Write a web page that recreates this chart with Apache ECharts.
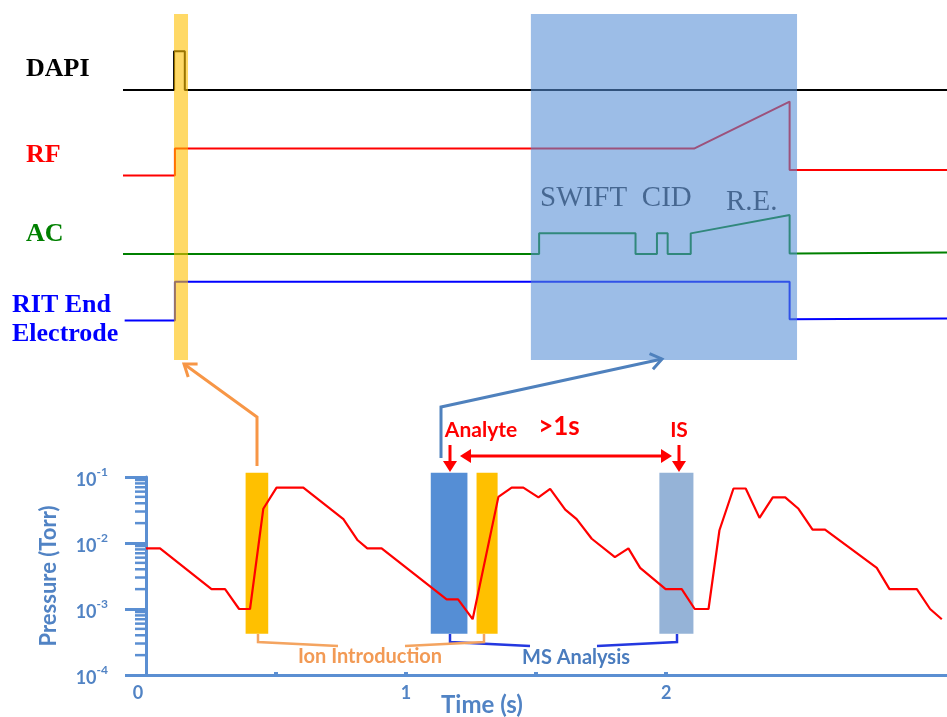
<!DOCTYPE html>
<html><head><meta charset="utf-8">
<script src="https://cdn.jsdelivr.net/npm/echarts@6/dist/echarts.min.js"></script>
<style>html,body{margin:0;padding:0;background:#fff}#c{width:947px;height:717px}</style>
</head><body><div id="c"></div><script>
// ---------- bottom chart: pressure vs time ----------
const pressureTime = [0,0.054,0.252,0.304,0.358,0.40,0.451,0.502,0.605,0.759,0.814,0.851,0.906,1.156,1.20,1.256,1.355,1.406,1.451,1.509,1.554,1.612,1.656,1.714,1.803,1.855,1.90,1.998,2.06,2.11,2.163,2.205,2.259,2.306,2.359,2.41,2.458,2.509,2.563,2.611,2.81,2.859,2.964,3.015,3.06];
const pressureTorr = [8.3e-3,8.3e-3,2.0e-3,2.0e-3,1.0e-3,1.0e-3,3.3e-2,6.9e-2,6.9e-2,2.3e-2,1.1e-2,8.3e-3,8.3e-3,1.4e-3,1.4e-3,7e-4,5e-2,6.9e-2,6.9e-2,4.9e-2,6.6e-2,3.2e-2,2.3e-2,1.16e-2,6.1e-3,8.3e-3,4.2e-3,2.0e-3,2.0e-3,1.0e-3,1.0e-3,1.56e-2,6.7e-2,6.7e-2,2.4e-2,4.9e-2,4.9e-2,3.3e-2,1.6e-2,1.6e-2,4.2e-3,2.0e-3,2.0e-3,1.0e-3,7e-4];
const windowStart = [0.383,1.095,1.271,1.974];
const windowEnd   = [0.470,1.236,1.352,2.105];
const windowTop = 0.116, windowBottom = 4.2e-4;
const windowColors = ['#FFC000','#558ED5','#FFC000','#95B3D7'];
const xLabelValues = [0,1,2];
const xTickValues = [0.5,1,1.5,2];
const minorTickValues = [2e-4,3e-4,4e-4,5e-4,6e-4,7e-4,8e-4,9e-4,2e-3,3e-3,4e-3,5e-3,6e-3,7e-3,8e-3,9e-3,2e-2,3e-2,4e-2,5e-2,6e-2,7e-2,8e-2,9e-2];

// ---------- top schematic (time units 0-100, level units 0-100) ----------
const dapiX = [0,6.2,6.2,7.5,7.5,100];
const dapiY = [78,78,89.2,89.2,78,78];
const rfX = [0,6.3,6.3,69.3,80.9,80.9,100];
const rfY = [53.3,53.3,61.1,61.1,74.7,54.9,54.9];
const acX = [0,50.5,50.5,62.2,62.2,64.8,64.8,66.1,66.1,68.9,68.9,80.9,80.9,81.8,100];
const acY = [30.6,30.6,36.6,36.6,30.6,30.6,36.6,36.6,30.6,30.6,36.6,41.9,30.8,30.8,31.1];
const ritX = [0.2,6.3,6.3,80.9,80.9,100];
const ritY = [11.4,11.4,22.6,22.6,11.8,12.0];
const highlightStart = [6.19,49.5];
const highlightEnd = [7.89,81.8];
const phaseLabels = ['SWIFT','CID','R.E.'];
const phaseX = [55.9,66.0,76.3];
const phaseY = [46.6,46.6,45.5];

const axisColor = '#5B8FD2';
const labelBlue = '#5183C4';
const zip = (a,b)=>a.map((v,i)=>[v,b[i]]);

const chart = echarts.init(document.getElementById('c'), null, {renderer:'canvas'});

function arrowHead(tip, from, len, half){
  const dx = tip[0]-from[0], dy = tip[1]-from[1];
  const L = Math.hypot(dx,dy); const ux=dx/L, uy=dy/L; const nx=-uy, ny=ux;
  const bx = tip[0]-ux*len, by = tip[1]-uy*len;
  return [[bx+nx*half, by+ny*half], tip, [bx-nx*half, by-ny*half]];
}
const gfx = [];
function polyline(points, color, w){ gfx.push({type:'polyline', z:100, shape:{points}, style:{stroke:color, lineWidth:w, fill:null, lineJoin:'miter'}}); }
function openArrow(points, color, w){
  polyline(points, color, w);
  const n = points.length;
  gfx.push({type:'polyline', z:100, shape:{points:arrowHead(points[n-1], points[n-2], 11, 8)}, style:{stroke:color, lineWidth:w, fill:null}});
}
function filledArrow(from, tip, color, w){
  const head = arrowHead(tip, from, 11, 7);
  const dx=tip[0]-from[0], dy=tip[1]-from[1], L=Math.hypot(dx,dy);
  polyline([from,[tip[0]-dx/L*9, tip[1]-dy/L*9]], color, w);
  gfx.push({type:'polygon', z:100, shape:{points:head}, style:{fill:color}});
}
function text(t, x, y, font, color, align){
  gfx.push({type:'text', z:100, style:{text:t, x, y, font, fill:color, textAlign:align||'left', textVerticalAlign:'middle', align:align||'left', verticalAlign:'middle'}});
}
// channel labels
const serifB = 'bold 26px "Liberation Serif", "Times New Roman", serif';
text('DAPI', 26, 69, serifB, '#000000');
text('RF', 26, 155, serifB, '#FF0000');
text('AC', 26, 234, serifB, '#008000');
text('RIT End', 12, 305, serifB, '#0000FF');
text('Electrode', 12, 334, serifB, '#0000FF');
// connectors
openArrow([[257,466],[257,417],[184,364]], '#F79646', 3);
openArrow([[441,458],[441,407],[662,359]], '#4F81BD', 3);
// red annotations
filledArrow([450,445],[450,472], '#FF0000', 3);
filledArrow([679,445],[679,472], '#FF0000', 3);
filledArrow([560,456],[460,456], '#FF0000', 3);
filledArrow([560,456],[672,456], '#FF0000', 3);
const sansB = (s)=>'bold '+s+'px Lato, "Open Sans", sans-serif';
text('Analyte', 481, 430, sansB(21), '#FF0000', 'center');
text('>1s', 559, 427, sansB(26), '#FF0000', 'center');
text('IS', 679, 430, sansB(21), '#FF0000', 'center');
// brackets
polyline([[450,634],[450,642],[530,646]], '#2438E0', 2.5);
polyline([[597,646],[677,642],[677,634]], '#2438E0', 2.5);
polyline([[258,634],[258,642],[338,646]], '#F4A460', 2.5);
polyline([[405,646],[484,642],[484,634]], '#F4A460', 2.5);
text('Ion Introduction', 370, 657, sansB(20), '#F29A55', 'center');
text('MS Analysis', 576, 658, sansB(20), '#4A7CBE', 'center');
text('Time (s)', 482, 705, sansB(24), labelBlue, 'center');

const option = {
  animation:false,
  backgroundColor:'#ffffff',
  grid:[
    {left:146, right:0, top:477, height:198, containLabel:false},
    {left:123, right:0, top:14, height:346, containLabel:false}
  ],
  xAxis:[
    {gridIndex:0, type:'value', min:0, max:3.08, interval:0.5,
     axisLine:{lineStyle:{color:axisColor, width:3}},
     axisTick:{inside:true, length:3, customValues:xTickValues, lineStyle:{color:axisColor, width:4}},
     axisLabel:{customValues:xLabelValues, margin:9, color:labelBlue, fontWeight:'bold', fontSize:18, fontFamily:'Lato, "Open Sans", sans-serif',
       formatter:(v)=> v===0 ? '{z|0}' : String(v), rich:{z:{fontSize:18, fontWeight:'bold', color:labelBlue, fontFamily:'Lato, "Open Sans", sans-serif', padding:[0,16,0,0]}}},
     splitLine:{show:false}},
    {gridIndex:1, type:'value', min:0, max:100, show:false}
  ],
  yAxis:[
    {gridIndex:0, type:'log', logBase:10, min:1e-4, max:1e-1,
     axisLine:{show:true, lineStyle:{color:axisColor, width:3}},
     axisTick:{show:true, length:21, lineStyle:{color:axisColor, width:3}},
     splitLine:{show:false},
     axisLabel:{margin:38, formatter:(v)=>'{b|10}{s|'+Math.round(Math.log10(v))+'}',
       rich:{b:{fontSize:18, fontWeight:'bold', color:labelBlue, fontFamily:'Lato, "Open Sans", sans-serif', padding:[6,0,0,0]},
             s:{fontSize:12, fontWeight:'bold', color:labelBlue, fontFamily:'Lato, "Open Sans", sans-serif', padding:[0,0,10,0]}}},
     name:'Pressure (Torr)', nameLocation:'middle', nameRotate:90, nameGap:86,
     nameTextStyle:{color:labelBlue, fontWeight:'bold', fontSize:22, fontFamily:'Lato, "Open Sans", sans-serif'}},
    {gridIndex:1, type:'value', min:0, max:100, show:false}
  ],
  series:[
    {type:'custom', name:'windows', xAxisIndex:0, yAxisIndex:0, clip:false, z:2, silent:true,
     data: windowStart.map((s,i)=>[s, windowEnd[i], windowTop, windowBottom, i]),
     encode:{x:[0,1], y:[2,3]},
     renderItem:(params, api)=>{
       const p1 = api.coord([api.value(0), api.value(2)]);
       const p2 = api.coord([api.value(1), api.value(3)]);
       return {type:'rect', shape:{x:p1[0], y:p1[1], width:p2[0]-p1[0], height:p2[1]-p1[1]}, style:{fill:windowColors[api.value(4)]}};
     }},
    {type:'custom', name:'minorTicks', xAxisIndex:0, yAxisIndex:0, clip:false, z:3, silent:true,
     data: minorTickValues.map(v=>[0,v]),
     renderItem:(params, api)=>{
       const c = api.coord([0, api.value(1)]);
       return {type:'line', shape:{x1:c[0]-11, y1:c[1], x2:c[0], y2:c[1]}, style:{stroke:axisColor, lineWidth:2.5}};
     }},
    {type:'line', name:'Pressure', xAxisIndex:0, yAxisIndex:0, z:4, symbol:'none',
     data: zip(pressureTime, pressureTorr), lineStyle:{color:'#FF0000', width:2.2}},
    {type:'line', name:'DAPI', xAxisIndex:1, yAxisIndex:1, z:2, symbol:'none', data:zip(dapiX,dapiY), lineStyle:{color:'#000000', width:2}},
    {type:'line', name:'RF', xAxisIndex:1, yAxisIndex:1, z:2, symbol:'none', data:zip(rfX,rfY), lineStyle:{color:'#FF0000', width:2}},
    {type:'line', name:'AC', xAxisIndex:1, yAxisIndex:1, z:2, symbol:'none', data:zip(acX,acY), lineStyle:{color:'#008000', width:2}},
    {type:'line', name:'RIT End Electrode', xAxisIndex:1, yAxisIndex:1, z:2, symbol:'none', data:zip(ritX,ritY), lineStyle:{color:'#0000FF', width:2}},
    {type:'scatter', name:'phases', xAxisIndex:1, yAxisIndex:1, z:2, symbolSize:0, silent:true,
     data: phaseLabels.map((n,i)=>({name:n, value:[phaseX[i], phaseY[i]]})),
     label:{show:true, position:'inside', formatter:'{b}', color:'#000000', fontSize:29, fontFamily:'"Liberation Serif", "Times New Roman", serif'}},
    {type:'custom', name:'highlights', xAxisIndex:1, yAxisIndex:1, clip:false, z:10, silent:true,
     data: highlightStart.map((s,i)=>[s, highlightEnd[i], i]),
     renderItem:(params, api)=>{
       const p1 = api.coord([api.value(0), 100]);
       const p2 = api.coord([api.value(1), 0]);
       const fill = api.value(2)===0 ? 'rgba(255,192,0,0.6)' : 'rgba(85,142,213,0.58)';
       return {type:'rect', shape:{x:p1[0], y:p1[1], width:p2[0]-p1[0], height:p2[1]-p1[1]}, style:{fill}};
     }}
  ],
  graphic: gfx
};
chart.setOption(option);
</script></body></html>
